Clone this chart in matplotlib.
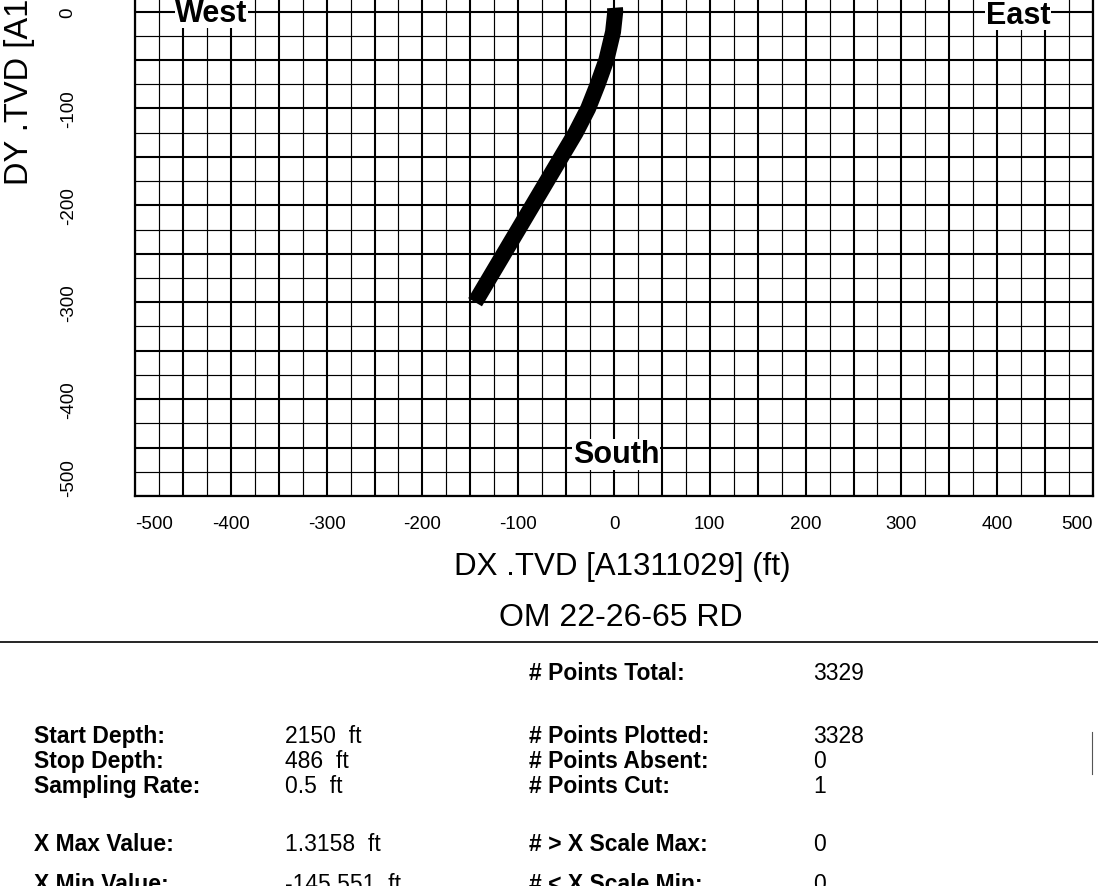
import numpy as np
import matplotlib
matplotlib.use("Agg")
import matplotlib.pyplot as plt
from matplotlib.lines import Line2D

plt.rcParams['font.family'] = ['Liberation Sans', 'DejaVu Sans']

# ---- data ----
dx_ft = [1.0, 1.3, -1, -8, -17, -27, -40, -55, -70, -85, -100, -115, -130, -145]
dy_ft = [4, 0, -21, -50, -75, -100, -125, -150, -175, -200, -225, -250, -275, -300]

x_ticks = [-500, -400, -300, -200, -100, 0, 100, 200, 300, 400, 500]
y_ticks = [0, -100, -200, -300, -400, -500]

x_label = "DX .TVD [A1311029] (ft)"
y_label = "DY .TVD [A1311029] (ft)"
title = "OM 22-26-65 RD"

left_labels = ["Start Depth:", "Stop Depth:", "Sampling Rate:", "X Max Value:", "X Min Value:"]
left_values = ["2150  ft", "486  ft", "0.5  ft", "1.3158  ft", "-145.551  ft"]
right_labels = ["# Points Total:", "# Points Plotted:", "# Points Absent:", "# Points Cut:",
                "# > X Scale Max:", "# < X Scale Min:"]
right_values = ["3329", "3328", "0", "1", "0", "0"]

W, H = 1098, 887
fig = plt.figure(figsize=(W / 100, H / 100), dpi=100)

ax_l, ax_r, ax_b, ax_t = 135, 1093, 497, 0
ax = fig.add_axes([ax_l / W, 1 - ax_b / H, (ax_r - ax_l) / W, (ax_b - ax_t) / H])
ax.set_xlim(-500, 500)
ax.set_ylim(-500, 13)

# grid
for v in np.arange(-500, 501, 25):
    major = (v % 50 == 0)
    ax.axvline(v, color='black', lw=1.5 if major else 0.85, zorder=1)
    if v <= 0:
        ax.axhline(v, color='black', lw=1.5 if major else 0.85, zorder=1)

ax.plot(dx_ft, dy_ft, color='black', lw=11.5, solid_capstyle='butt', solid_joinstyle='round', zorder=3)

for s in ['left', 'bottom', 'right']:
    ax.spines[s].set_linewidth(1.6)
ax.spines['top'].set_visible(False)

ax.set_xticks(x_ticks)
ax.set_xticklabels([str(t) for t in x_ticks])
ax.set_yticks(y_ticks)
ax.set_yticklabels([str(t) for t in y_ticks], rotation=90)
ax.tick_params(axis='both', which='both', length=0, labelsize=13.5, colors='black')
ax.tick_params(axis='x', pad=14)
ax.tick_params(axis='y', pad=42)
xl = ax.get_xticklabels()
xl[0].set_ha('left')
xl[-1].set_ha('right')
yl = ax.get_yticklabels()
for t in yl:
    t.set_va('center')
yl[-1].set_va('bottom')

# direction labels
bb = dict(facecolor='white', edgecolor='none', pad=0.5)
ax.text(-420, -1, "West", fontsize=22, fontweight='bold', ha='center', va='center', bbox=bb, zorder=4)
ax.text(422, -3, "East", fontsize=22, fontweight='bold', ha='center', va='center', bbox=bb, zorder=4)
ax.text(2, -457, "South", fontsize=22, fontweight='bold', ha='center', va='center', bbox=bb, zorder=4)

# axis labels / title
fig.text(622 / W, 1 - 567 / H, x_label, fontsize=22.5, ha='center', va='center')
fig.text(621 / W, 1 - 618 / H, title, fontsize=23, ha='center', va='center')
fig.text(20 / W, 1 - 185 / H, y_label, fontsize=23.5, rotation=90, ha='center', va='bottom')

# separator line
fig.add_artist(Line2D([0, 1], [1 - 643 / H, 1 - 643 / H], transform=fig.transFigure, color='black', lw=1.2))
fig.add_artist(Line2D([1092 / W, 1092 / W], [1 - 733 / H, 1 - 775 / H], transform=fig.transFigure, color='#555555', lw=0.8))

# stats table
row_y = {0: 674, 2: 737, 3: 762, 4: 787, 6: 845, 7: 885}
left_rows = [2, 3, 4, 6, 7]
right_rows = [0, 2, 3, 4, 6, 7]
for r, lab, val in zip(left_rows, left_labels, left_values):
    y = 1 - row_y[r] / H
    fig.text(34 / W, y, lab, fontsize=16.5, fontweight='bold', ha='left', va='center')
    fig.text(285 / W, y, val, fontsize=16.5, ha='left', va='center')
for r, lab, val in zip(right_rows, right_labels, right_values):
    y = 1 - row_y[r] / H
    fig.text(529 / W, y, lab, fontsize=16.5, fontweight='bold', ha='left', va='center')
    fig.text(813 / W, y, val, fontsize=16.5, ha='left', va='center')

fig.savefig("out.png", dpi=100)
